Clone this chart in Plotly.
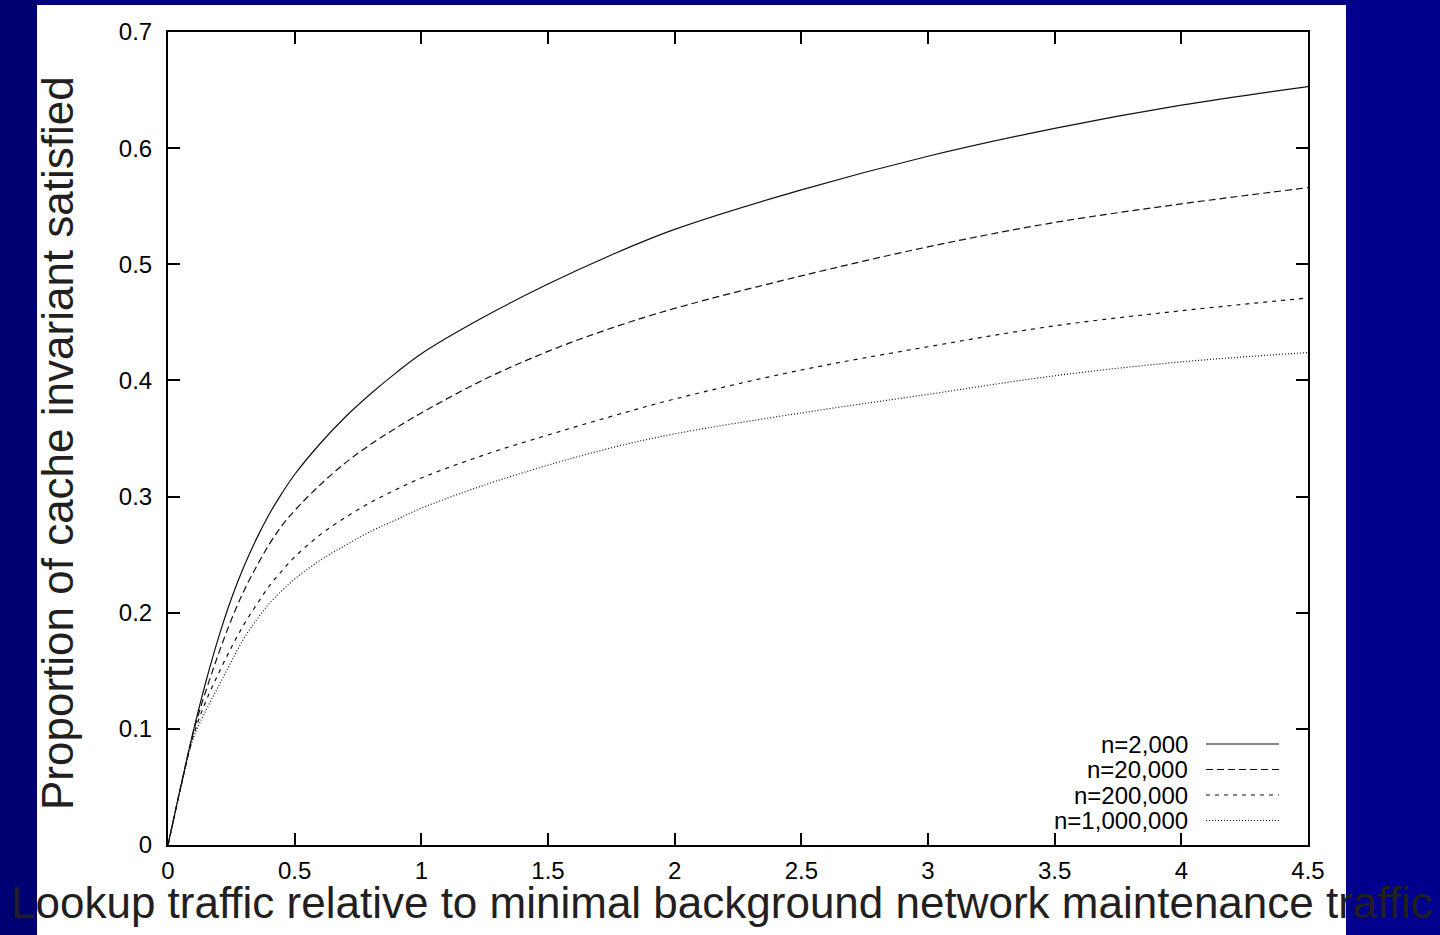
import plotly.graph_objects as go

# ---- data ----
x_vals = [0, 0.05, 0.1, 0.15, 0.2, 0.25, 0.3, 0.35, 0.4, 0.45, 0.5, 0.6, 0.7, 0.8, 0.9, 1.0,
          1.25, 1.5, 1.75, 2.0, 2.5, 3.0, 3.5, 4.0, 4.5]
n_2k = [0, 0.050, 0.098, 0.141, 0.179, 0.212, 0.240, 0.264, 0.285, 0.303, 0.319, 0.3455, 0.3685, 0.3885, 0.4065, 0.423,
        0.455, 0.483, 0.508, 0.530, 0.564, 0.593, 0.617, 0.637, 0.653]
n_20k = [0, 0.050, 0.097, 0.133, 0.165, 0.194, 0.219, 0.240, 0.259, 0.275, 0.288, 0.310, 0.329, 0.345, 0.359, 0.372,
         0.401, 0.425, 0.445, 0.462, 0.490, 0.515, 0.536, 0.552, 0.566]
n_200k = [0, 0.049, 0.094, 0.124, 0.148, 0.170, 0.190, 0.207, 0.223, 0.236, 0.248, 0.267, 0.282, 0.295, 0.306, 0.316,
          0.336, 0.353, 0.369, 0.384, 0.409, 0.429, 0.447, 0.460, 0.471]
n_1m = [0, 0.049, 0.092, 0.116, 0.137, 0.158, 0.178, 0.194, 0.208, 0.219, 0.229, 0.245, 0.258, 0.270, 0.280, 0.290,
        0.310, 0.327, 0.342, 0.354, 0.372, 0.388, 0.404, 0.416, 0.424]

series_names = ["n=2,000", "n=20,000", "n=200,000", "n=1,000,000"]
series_values = [n_2k, n_20k, n_200k, n_1m]
dash_styles = ["solid", "7px,4px", "4px,5px", "1px,2px"]

x_ticks = [0, 0.5, 1, 1.5, 2, 2.5, 3, 3.5, 4, 4.5]
y_ticks = [0, 0.1, 0.2, 0.3, 0.4, 0.5, 0.6, 0.7]
x_title = "Lookup traffic relative to minimal background network maintenance traffic"
y_title = "Proportion of cache invariant satisfied"

# ---- layout geometry (pixels) ----
W, H = 1440, 935
L, R, T, B = 168, 1308, 32, 845
PW, PH = R - L, B - T


def px(xp):
    return (xp - L) / PW


def py(yp):
    return (B - yp) / PH


FONT = "Liberation Sans, Arial, Helvetica, sans-serif"

fig = go.Figure()
for name, vals, dash in zip(series_names, series_values, dash_styles):
    fig.add_trace(go.Scatter(
        x=x_vals, y=vals, mode="lines", name=name,
        line=dict(color="#111111", width=1.2, dash=dash, shape="spline", smoothing=1.0),
        showlegend=False,
    ))

shapes = [
    # white slide area
    dict(type="rect", xref="paper", yref="paper", layer="below",
         x0=px(37), x1=px(1346), y0=py(935), y1=py(5),
         fillcolor="white", line=dict(width=0)),
    dict(type="rect", xref="paper", yref="paper", layer="below",
         x0=px(0), x1=px(37), y0=py(935), y1=py(0),
         fillcolor="#000072", line=dict(width=0)),
    dict(type="rect", xref="paper", yref="paper", layer="below",
         x0=px(1346), x1=px(1440), y0=py(935), y1=py(0),
         fillcolor="#00008c", line=dict(width=0)),
]

annotations = [
    dict(text=x_title, xref="paper", yref="paper", x=px(722), y=py(903),
         xanchor="center", yanchor="middle", showarrow=False,
         font=dict(family=FONT, size=44, color="#231f20")),
    dict(text=y_title, xref="paper", yref="paper", x=px(57), y=py(443),
         xanchor="center", yanchor="middle", showarrow=False, textangle=-90,
         font=dict(family=FONT, size=44, color="#231f20")),
]

leg_rows = [744, 769.5, 795, 820.5]
for name, dash, yr in zip(series_names, dash_styles, leg_rows):
    annotations.append(dict(text=name, xref="paper", yref="paper", x=px(1190), y=py(yr),
                            xanchor="right", yanchor="middle", showarrow=False,
                            font=dict(family=FONT, size=24, color="black")))
    shapes.append(dict(type="line", xref="paper", yref="paper",
                       x0=px(1206), x1=px(1279), y0=py(yr), y1=py(yr),
                       line=dict(color="#111111", width=1.2, dash=dash)))

axis_common = dict(
    showline=True, linecolor="black", linewidth=2, mirror="allticks",
    ticks="inside", ticklen=12, tickwidth=1.5, tickcolor="black",
    showgrid=False, zeroline=False,
    tickfont=dict(family=FONT, size=24, color="black"),
)

fig.update_layout(
    width=W, height=H,
    margin=dict(l=L, r=W - R, t=T, b=H - B, pad=0),
    paper_bgcolor="#000080", plot_bgcolor="white",
    xaxis=dict(range=[0, 4.5], tickvals=x_ticks, ticklabelstandoff=3, **axis_common),
    yaxis=dict(range=[0, 0.7], tickvals=y_ticks, ticklabelstandoff=9, **axis_common),
    shapes=shapes, annotations=annotations, showlegend=False,
)

fig.write_html("out.html")
